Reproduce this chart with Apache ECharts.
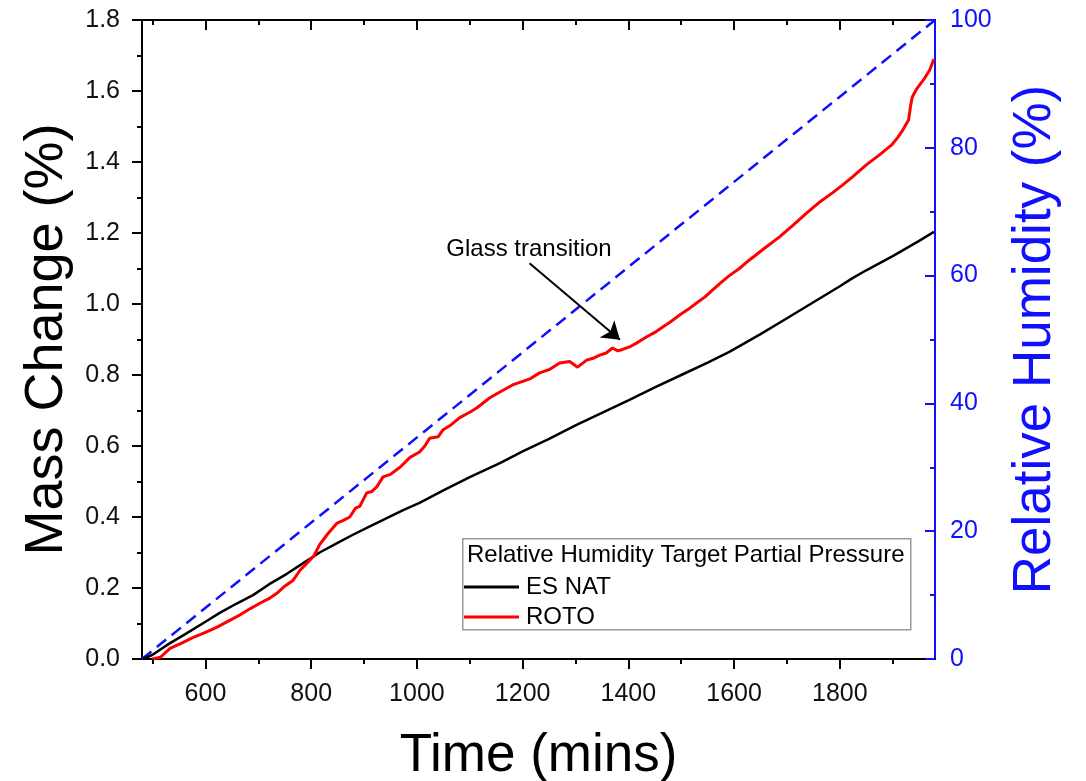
<!DOCTYPE html>
<html>
<head>
<meta charset="utf-8">
<script src="https://cdn.jsdelivr.net/npm/echarts@6/dist/echarts.min.js"></script>
<style>
  html, body { margin: 0; padding: 0; background: #fff; overflow: hidden; }
  #chart { width: 1086px; height: 781px; }
</style>
</head>
<body>
<div id="chart"></div>
<script>
const FONT = '"Liberation Sans", Arial, Helvetica, sans-serif';

// Time axis ticks (mins)
const xMajorTicks = [600, 800, 1000, 1200, 1400, 1600, 1800];
const xMinorTicks = [500, 700, 900, 1100, 1300, 1500, 1700, 1900];

// Mass change (%) vs time (mins)
const esNat = [
  [482, 0.0], [500, 0.012], [530, 0.042], [565, 0.073], [600, 0.105], [627, 0.13],
  [660, 0.157], [690, 0.18], [720, 0.21], [754, 0.24], [785, 0.27], [816, 0.30],
  [850, 0.327], [879, 0.35], [910, 0.373], [943, 0.397], [975, 0.42], [1005, 0.44],
  [1050, 0.475], [1100, 0.512], [1157, 0.552], [1200, 0.585], [1250, 0.62], [1300, 0.658],
  [1350, 0.693], [1402, 0.73], [1450, 0.765], [1500, 0.80], [1550, 0.835], [1591, 0.865],
  [1650, 0.915], [1700, 0.96], [1750, 1.005], [1800, 1.05], [1824, 1.073], [1850, 1.095],
  [1900, 1.135], [1950, 1.178], [1978, 1.203]
];

const roto = [
  [500, 0.0], [515, 0.005], [533, 0.03], [555, 0.045], [576, 0.06], [600, 0.075],
  [622, 0.09], [645, 0.108], [665, 0.124], [685, 0.142], [703, 0.157], [720, 0.17],
  [735, 0.185], [750, 0.205], [766, 0.222], [779, 0.25], [792, 0.27], [805, 0.29],
  [816, 0.322], [830, 0.35], [849, 0.383], [860, 0.39], [873, 0.40], [884, 0.425],
  [892, 0.43], [905, 0.468], [915, 0.472], [924, 0.485], [936, 0.513], [950, 0.52],
  [968, 0.54], [987, 0.568], [1005, 0.583], [1015, 0.60], [1024, 0.622], [1040, 0.626],
  [1049, 0.645], [1065, 0.66], [1081, 0.68], [1100, 0.695], [1113, 0.707], [1138, 0.736],
  [1157, 0.752], [1181, 0.772], [1200, 0.782], [1215, 0.79], [1232, 0.806], [1250, 0.815],
  [1270, 0.834], [1289, 0.838], [1304, 0.822], [1321, 0.842], [1335, 0.848], [1346, 0.856],
  [1358, 0.862], [1370, 0.876], [1380, 0.868], [1389, 0.872], [1402, 0.879], [1418, 0.892],
  [1434, 0.907], [1450, 0.92], [1465, 0.935], [1480, 0.95], [1497, 0.969], [1513, 0.985],
  [1529, 1.003], [1545, 1.02], [1559, 1.039], [1575, 1.06], [1591, 1.08], [1610, 1.10],
  [1629, 1.124], [1660, 1.16], [1686, 1.189], [1710, 1.22], [1737, 1.256], [1760, 1.285],
  [1786, 1.313], [1805, 1.335], [1824, 1.358], [1850, 1.392], [1875, 1.42], [1898, 1.448],
  [1910, 1.47], [1919, 1.49], [1930, 1.518], [1934, 1.56], [1937, 1.583], [1945, 1.605],
  [1951, 1.617], [1960, 1.635], [1970, 1.659], [1978, 1.69]
];

// Target relative humidity (%) ramp
const humidity = [[480, 0], [1980, 100]];

// Annotation: arrow from the label towards the transition point on ROTO
const glassArrow = { from: [1213, 1.115], to: [1384, 0.899] };
const glassLabel = { at: [1212, 1.155], text: 'Glass transition' };

const BLUE = '#1010ff';
const axisText = { fontFamily: FONT, fontSize: 25, color: '#111' };

const chart = echarts.init(document.getElementById('chart'), null, { renderer: 'canvas' });

chart.setOption({
  animation: false,
  backgroundColor: '#fff',
  grid: { left: 142, right: 151, top: 20, bottom: 122, containLabel: false, outerBoundsMode: 'none' },
  legend: {
    data: ['ES NAT', 'ROTO'],
    orient: 'vertical',
    left: 462,
    top: 575,
    icon: 'rect',
    itemWidth: 55,
    itemHeight: 3,
    itemGap: 6,
    padding: [0, 0, 0, 2],
    selectedMode: false,
    textStyle: { fontFamily: FONT, fontSize: 24, color: '#000', lineHeight: 22, padding: [0, 0, 0, 2] }
  },
  graphic: [
    {
      type: 'rect',
      left: 462, top: 538, z: 3,
      shape: { width: 448, height: 91 },
      style: { fill: '#fff', stroke: '#999', lineWidth: 1.5 }
    },
    {
      type: 'text',
      left: 467, top: 543, z: 5,
      style: { text: 'Relative Humidity Target Partial Pressure', font: '24px ' + FONT, fill: '#000' }
    }
  ],
  xAxis: [
    {
      type: 'value', position: 'bottom', min: 480, max: 1980,
      name: 'Time (mins)', nameLocation: 'middle', nameGap: 71,
      nameTextStyle: { fontFamily: FONT, fontSize: 53, color: '#000' },
      axisLine: { show: true, lineStyle: { color: '#000', width: 2 } },
      axisTick: { show: true, customValues: xMajorTicks, length: 10, lineStyle: { color: '#000', width: 2 } },
      axisLabel: Object.assign({ customValues: xMajorTicks, margin: 23, formatter: v => String(v) }, axisText),
      splitLine: { show: false }
    },
    {
      type: 'value', position: 'bottom', min: 480, max: 1980,
      axisLine: { show: false },
      axisTick: { show: true, customValues: xMinorTicks, length: 5, lineStyle: { color: '#000', width: 2 } },
      axisLabel: { show: false },
      splitLine: { show: false }
    },
    {
      type: 'value', position: 'top', min: 480, max: 1980,
      axisLine: { show: true, lineStyle: { color: '#000', width: 2 } },
      axisTick: { show: true, inside: true, customValues: xMajorTicks, length: 10, lineStyle: { color: '#000', width: 2 } },
      axisLabel: { show: false },
      splitLine: { show: false }
    },
    {
      type: 'value', position: 'top', min: 480, max: 1980,
      axisLine: { show: false },
      axisTick: { show: true, inside: true, customValues: xMinorTicks, length: 5, lineStyle: { color: '#000', width: 2 } },
      axisLabel: { show: false },
      splitLine: { show: false }
    }
  ],
  yAxis: [
    {
      type: 'value', position: 'left', min: 0, max: 1.8, interval: 0.2,
      name: 'Mass Change (%)', nameLocation: 'middle', nameGap: 63,
      nameTextStyle: { fontFamily: FONT, fontSize: 54, color: '#000' },
      axisLine: { show: true, lineStyle: { color: '#000', width: 2 } },
      axisTick: { show: true, length: 10, lineStyle: { color: '#000', width: 2 } },
      minorTick: { show: true, splitNumber: 2, length: 5, lineStyle: { color: '#000', width: 2 } },
      axisLabel: Object.assign({ margin: 22, formatter: v => v.toFixed(1) }, axisText),
      splitLine: { show: false }
    },
    {
      type: 'value', position: 'right', min: 0, max: 100, interval: 20,
      name: 'Relative Humidity (%)', nameLocation: 'middle', nameGap: 74,
      nameTextStyle: { fontFamily: FONT, fontSize: 53, color: BLUE },
      axisLine: { show: true, lineStyle: { color: BLUE, width: 2 } },
      axisTick: { show: true, inside: true, length: 10, lineStyle: { color: BLUE, width: 2 } },
      minorTick: { show: true, splitNumber: 2, length: 5, lineStyle: { color: BLUE, width: 2 } },
      axisLabel: { margin: 15, fontFamily: FONT, fontSize: 25, color: BLUE },
      splitLine: { show: false }
    }
  ],
  series: [
    {
      name: 'RH target',
      type: 'line',
      xAxisIndex: 0, yAxisIndex: 1,
      data: humidity,
      showSymbol: false, silent: true, z: 2,
      lineStyle: { color: BLUE, width: 2.5, type: [12, 7] },
      itemStyle: { color: BLUE }
    },
    {
      name: 'ES NAT',
      type: 'line',
      xAxisIndex: 0, yAxisIndex: 0,
      data: esNat,
      showSymbol: false, silent: true, z: 3,
      lineStyle: { color: '#000', width: 2.5 },
      itemStyle: { color: '#000' }
    },
    {
      name: 'ROTO',
      type: 'line',
      xAxisIndex: 0, yAxisIndex: 0,
      data: roto,
      showSymbol: false, silent: true, z: 4,
      lineStyle: { color: '#ff0000', width: 3 },
      itemStyle: { color: '#ff0000' },
      markLine: {
        silent: true,
        symbol: ['none', 'arrow'],
        symbolSize: 17,
        label: { show: false },
        lineStyle: { color: '#000', width: 2, type: 'solid' },
        data: [[{ coord: glassArrow.from }, { coord: glassArrow.to }]]
      },
      markPoint: {
        silent: true,
        symbol: 'rect',
        symbolSize: 1,
        itemStyle: { color: 'rgba(0,0,0,0)' },
        label: { show: true, position: 'inside', formatter: glassLabel.text, fontFamily: FONT, fontSize: 24, color: '#000' },
        data: [{ coord: glassLabel.at }]
      }
    }
  ]
});
</script>
</body>
</html>
